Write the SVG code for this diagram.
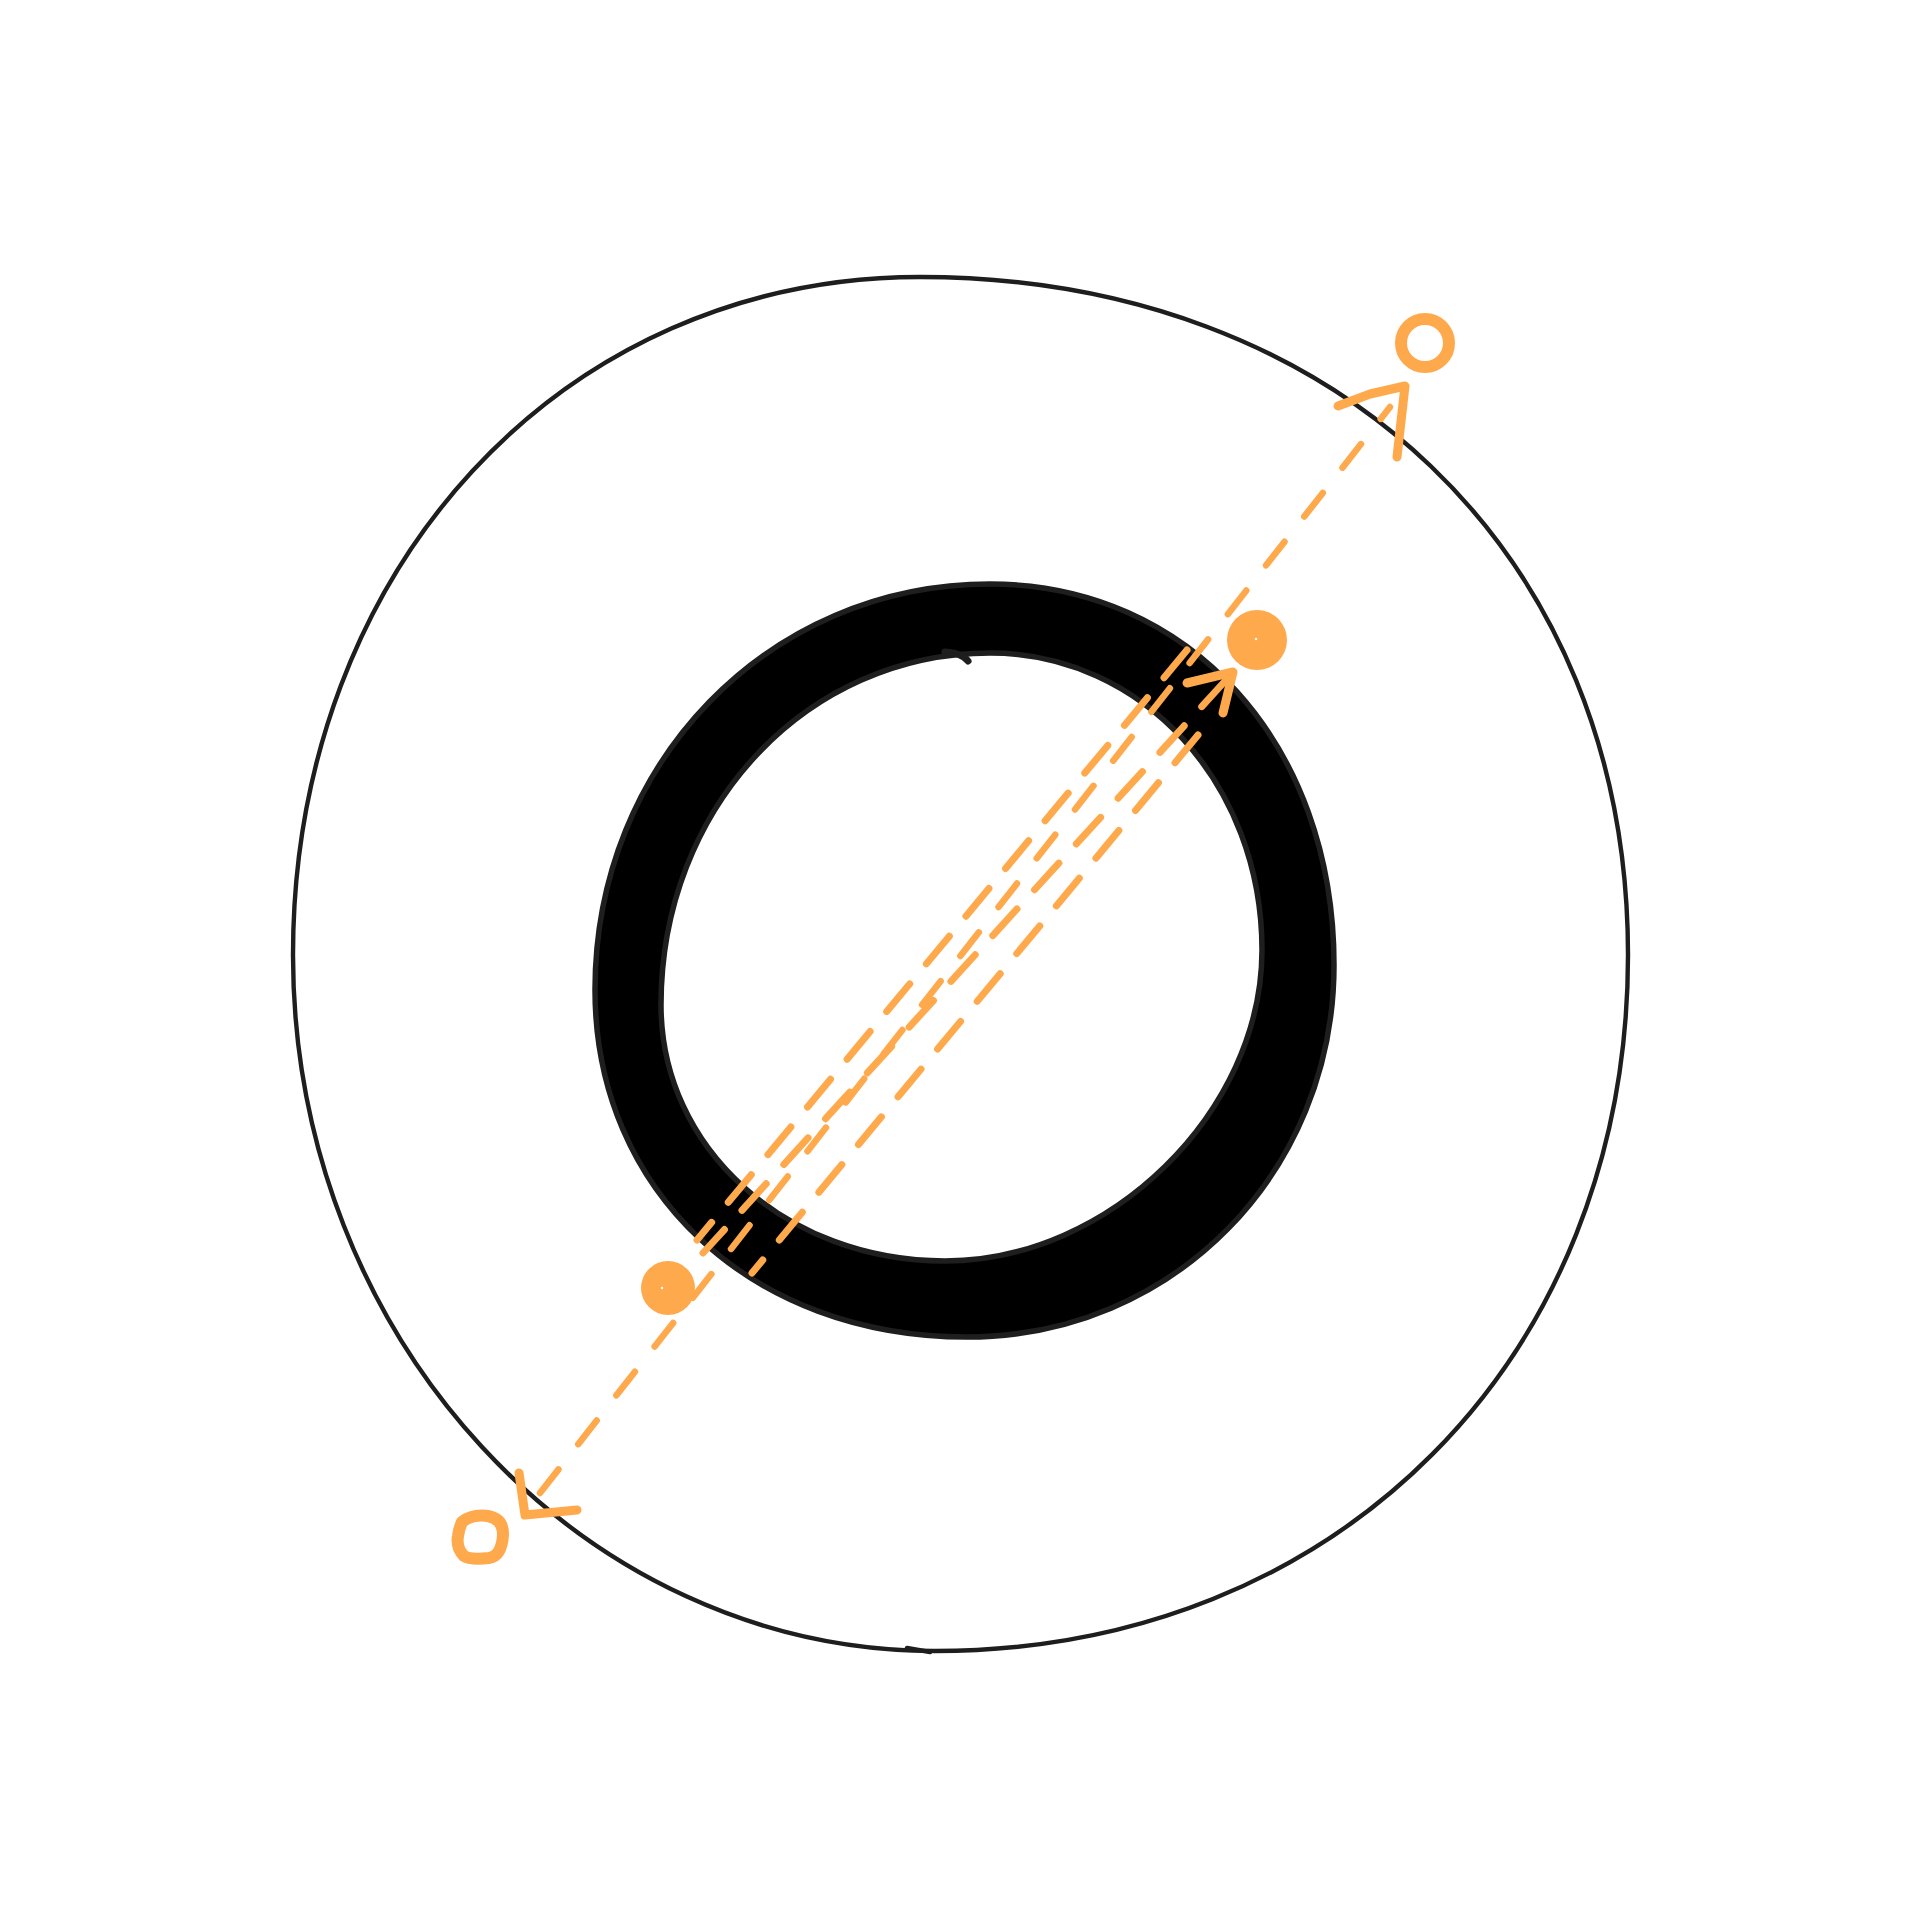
<svg xmlns="http://www.w3.org/2000/svg" width="1920" height="1920" viewBox="0 0 1920 1920">
<style>
.blk{fill:none;stroke:#1e1e1e;stroke-width:4.4;stroke-linecap:round;stroke-linejoin:round}
.ring{fill:#000;fill-rule:evenodd;stroke:#1e1e1e;stroke-width:5.5;stroke-linejoin:round}
.hook{fill:none;stroke:#1e1e1e;stroke-width:7;stroke-linecap:round}
.dash{fill:none;stroke:#ffa94d;stroke-width:6.5;stroke-linecap:round;stroke-dasharray:30 32}
.dash2{fill:none;stroke:#ffa94d;stroke-width:7;stroke-linecap:round;stroke-dasharray:36 26}
.head{fill:none;stroke:#ffa94d;stroke-width:9;stroke-linecap:round;stroke-linejoin:round}
.oring{fill:none;stroke:#ffa94d;stroke-width:12}
.dot{fill:#ffa94d}
</style>
<rect width="1920" height="1920" fill="#ffffff"/>
<g id="outer-circle">
<path class="blk" d="M920,277 C1337.7,277 1628,555 1628,955 C1628,1358.7 1336.9,1651 935,1651 C581.9,1651 293,1337.8 293,955 C293,568.5 562.6,277 920,277 Z"/>
<path class="blk" d="M907,1648 L930,1652"/>
</g>
<g id="inner-ring">
<path class="ring" d="M990,584 C1189.5,584 1334,744 1334,965 C1334,1173.3 1172.5,1337 967,1337 C751.2,1337 595,1191.3 595,990 C595,762.6 768.8,584 990,584 Z M990,653 C1142.3,653 1262,783.7 1262,950 C1262,1111.7 1109.8,1261 945,1261 C786,1261 661,1148.4 661,1005 C661,807.9 805.8,653 990,653 Z"/>
<path class="hook" d="M945,652 Q962,653 968,661"/>
</g>
<g id="connectors">
<path class="dash" d="M540,1493 L1390,407"/>
<polyline class="head" points="1338,406 1370,394 1405,386 1397,457"/>
<polyline class="head" points="519,1473 525,1515 577,1510"/>
<path class="dash2" d="M1187,650 L697,1240"/>
<path class="dash2" d="M1226,680 L703,1253"/>
<path class="dash2" d="M1198,735 L752,1273"/>
<polyline class="head" points="1187,683 1233,672 1223,713"/>
</g>
<g id="end-top">
<circle class="oring" cx="1425" cy="343" r="24"/>
</g>
<g id="end-bottom">
<path class="oring" d="M462,1522 Q472,1514 488,1516 Q503,1519 503,1534 Q502,1556 489,1558 Q470,1560 464,1556 Q456,1548 458,1536 Q459,1528 462,1522 Z"/>
</g>
<g id="dot-top">
<circle class="dot" cx="1257" cy="640" r="30"/>
<circle cx="1256" cy="639" r="1.2" fill="#ffffff"/>
</g>
<g id="dot-bottom">
<circle class="dot" cx="668" cy="1288" r="27"/>
<circle cx="662" cy="1288" r="1.2" fill="#ffffff"/>
</g>
</svg>
